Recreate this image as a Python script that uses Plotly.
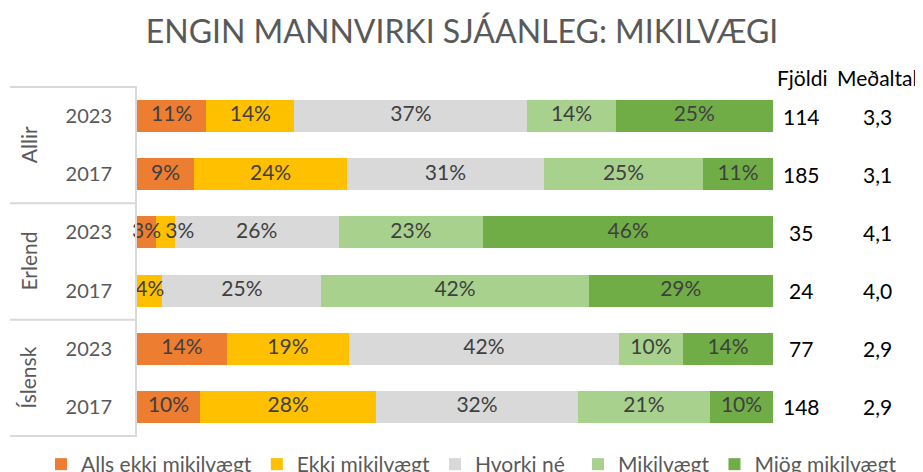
import plotly.graph_objects as go

groups = ["Allir", "Allir", "Erlend", "Erlend", "Íslensk", "Íslensk"]
years = ["2023", "2017", "2023", "2017", "2023", "2017"]
series_names = ["Alls ekki mikilvægt", "Ekki mikilvægt", "Hvorki né", "Mikilvægt", "Mjög mikilvægt"]
alls_ekki = [11, 9, 3, 0, 14, 10]
ekki = [14, 24, 3, 4, 19, 28]
hvorki = [37, 31, 26, 25, 42, 32]
mikil = [14, 25, 23, 42, 10, 21]
mjog = [25, 11, 46, 29, 14, 10]
fjoldi = ["114", "185", "35", "24", "77", "148"]
medaltal = ["3,3", "3,1", "4,1", "4,0", "2,9", "2,9"]
colors = ["#ED7D31", "#FFC000", "#D9D9D9", "#A9D18E", "#70AD47"]

cats = [f"{g} {y}" for g, y in zip(groups, years)]
series = [alls_ekki, ekki, hvorki, mikil, mjog]

FONT = "Lato"
OFF = 8  # page body margin offset
W, H = 923 - OFF, 472 - OFF
L = 137 - OFF
R = W - (773 - OFF)
T = 86 - OFF
B = H - (437 - OFF)
PW = W - L - R
PH = H - T - B


def px_x(xref_px):
    """reference-picture x pixel -> paper fraction"""
    return (xref_px - OFF - L) / PW


fig = go.Figure()
for k, (name, vals, col) in enumerate(zip(series_names, series, colors)):
    fig.add_trace(go.Bar(
        y=cats, x=vals, name=name, orientation="h",
        marker=dict(color=col, line=dict(width=0)),
        legend="legend" if k < 3 else "legend2",
        hovertemplate="%{y}: %{x}%<extra>" + name + "</extra>",
    ))

# value labels, drawn above all bars (row-normalised like barnorm="percent")
row_sums = [sum(s[i] for s in series) for i in range(len(cats))]
cum = [0.0] * len(cats)
prev = None
for vals in series:
    xs, texts, pos = [], [], []
    for i, v in enumerate(vals):
        share = 100.0 * v / row_sums[i]
        xs.append(cum[i] + share / 2)
        cum[i] += share
        texts.append(f"{v}%" if v > 0 else "")
        small_after_small = v < 5 and prev is not None and 0 < prev[i] < 5
        pos.append("middle right" if small_after_small else "middle center")
    fig.add_trace(go.Scatter(
        x=xs, y=cats, mode="text", text=texts, textposition=pos,
        textfont=dict(family=FONT, size=21, color="#404040"),
        showlegend=False, hoverinfo="skip", cliponaxis=False,
    ))
    prev = vals

fig.update_layout(
    barmode="stack", barnorm="percent", bargap=0.45,
    width=W, height=H,
    margin=dict(l=L, r=R, t=T, b=B, autoexpand=False),
    paper_bgcolor="white", plot_bgcolor="white",
    font=dict(family=FONT, color="#595959"),
    title=dict(text="ENGIN MANNVIRKI SJÁANLEG: MIKILVÆGI", x=(462 - OFF) / W, xref="container",
               xanchor="center", y=1 - (32 - OFF) / H, yref="container", yanchor="middle",
               font=dict(family=FONT, size=32, color="#595959")),
    showlegend=True,
    legend=dict(orientation="h", xref="paper", x=(41 - OFF - L) / PW, xanchor="left",
                yref="paper", y=-7 / PH, yanchor="top", traceorder="normal",
                font=dict(family=FONT, size=21, color="#595959"), itemwidth=30),
    legend2=dict(orientation="h", xref="paper", x=(578 - OFF - L) / PW, xanchor="left",
                 yref="paper", y=-7 / PH, yanchor="top", traceorder="normal",
                 font=dict(family=FONT, size=21, color="#595959"), itemwidth=30),
)
fig.update_xaxes(range=[0, 100], visible=False, showgrid=False)
fig.update_yaxes(autorange="reversed", tickvals=cats, ticktext=years,
                 tickfont=dict(family=FONT, size=20, color="#595959"),
                 ticklabelstandoff=19, showline=True, linecolor="#D9D9D9", linewidth=2,
                 showgrid=False, ticks="")

# separators in category column
line_style = dict(color="#D9D9D9", width=2)
for yv in [-0.5, 1.5, 3.5, 5.5]:
    fig.add_shape(type="line", xref="paper", yref="y", x0=px_x(10), x1=0, y0=yv, y1=yv,
                  line=line_style, layer="above")

# group labels
for i, g in enumerate(["Allir", "Erlend", "Íslensk"]):
    fig.add_annotation(x=px_x(28), xref="paper", y=2 * i + 0.5, yref="y", text=g,
                       textangle=-90, showarrow=False, xanchor="center", yanchor="middle",
                       font=dict(family=FONT, size=21, color="#595959"))

# right columns
hdr_y = 1 + 8 / PH
fig.add_annotation(x=px_x(802), xref="paper", y=hdr_y, yref="paper", text="Fjöldi",
                   showarrow=False, xanchor="center", yanchor="middle",
                   font=dict(family=FONT, size=21, color="#000000"))
fig.add_annotation(x=px_x(877), xref="paper", y=hdr_y, yref="paper", text="Meðaltal",
                   showarrow=False, xanchor="center", yanchor="middle",
                   font=dict(family=FONT, size=21, color="#000000"))
for c, f, m in zip(cats, fjoldi, medaltal):
    fig.add_annotation(x=px_x(801), xref="paper", y=c, yref="y", text=f,
                       showarrow=False, xanchor="center", yanchor="middle",
                       font=dict(family=FONT, size=21, color="#000000"))
    fig.add_annotation(x=px_x(877), xref="paper", y=c, yref="y", text=m,
                       showarrow=False, xanchor="center", yanchor="middle",
                       font=dict(family=FONT, size=21, color="#000000"))

fig.write_html("out.html")
